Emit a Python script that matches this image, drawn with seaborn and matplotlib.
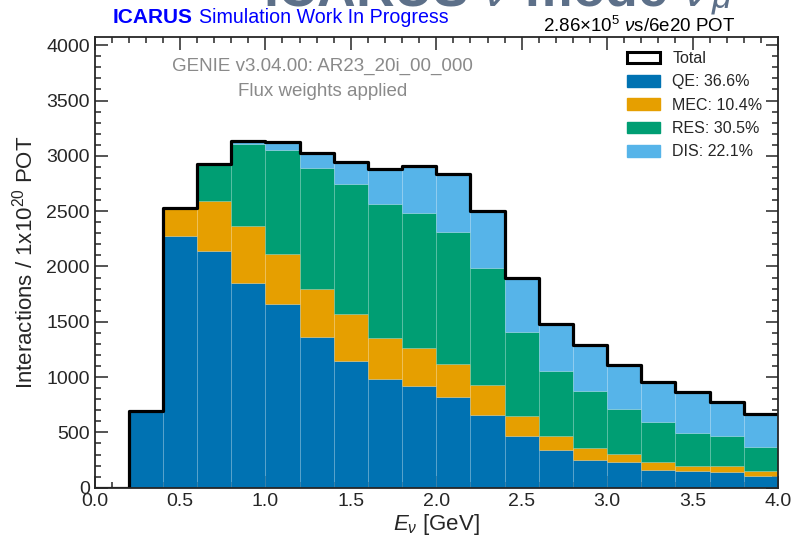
import numpy as np
import pandas as pd
import matplotlib
matplotlib.use("Agg")
import matplotlib.pyplot as plt
from matplotlib.patches import Patch
from matplotlib.ticker import MultipleLocator
import seaborn as sns

# bin edges in GeV, 0.2 GeV wide
edges = np.linspace(0.0, 4.0, 21)
centers = 0.5 * (edges[:-1] + edges[1:])

# interactions per bin, first bin 0.0-0.2 is empty
qe = [0, 689, 2278, 2140, 1851, 1659, 1366, 1147, 981, 915, 819, 653, 470, 337, 247, 235, 163, 147, 142, 102]
mec = [0, 0, 248, 452, 515, 457, 431, 421, 368, 346, 301, 271, 182, 126, 111, 72, 72, 52, 50, 51]
res = [0, 0, 0, 334, 740, 936, 1090, 1177, 1213, 1225, 1192, 1060, 759, 591, 512, 403, 361, 295, 271, 211]
dis = [0, 0, 0, 0, 30, 75, 135, 202, 316, 422, 523, 517, 488, 430, 421, 398, 361, 370, 316, 301]

modes = ["QE", "MEC", "RES", "DIS"]
labels = ["QE: 36.6%", "MEC: 10.4%", "RES: 30.5%", "DIS: 22.1%"]
colors = {"QE": "#0072b2", "MEC": "#e69f00", "RES": "#009e73", "DIS": "#56b4e9"}

df = pd.DataFrame({
    "E": np.tile(centers, 4),
    "mode": np.repeat(modes, len(centers)),
    "count": np.concatenate([qe, mec, res, dis]),
})
total = np.array(qe) + np.array(mec) + np.array(res) + np.array(dis)

sns.set_style("ticks")
plt.rcParams["font.family"] = ["Liberation Sans", "DejaVu Sans"]
plt.rcParams["mathtext.fontset"] = "custom"
plt.rcParams["mathtext.rm"] = "Liberation Sans"
plt.rcParams["mathtext.it"] = "Liberation Sans:italic"
plt.rcParams["mathtext.bf"] = "Liberation Sans:bold"

fig = plt.figure(figsize=(7.94, 5.39), dpi=100)
ax = fig.add_axes([0.1191, 0.0952, 0.9798 - 0.1191, 0.9319 - 0.0952])

# stacked components, last hue level ends up at the bottom
sns.histplot(data=df, x="E", weights="count", hue="mode",
             hue_order=["DIS", "RES", "MEC", "QE"], palette=colors,
             bins=edges.tolist(), multiple="stack", element="bars", alpha=1,
             edgecolor=(1, 1, 1, 0.12), linewidth=0.6, legend=False, ax=ax)
# total outline
sns.histplot(x=centers, weights=total, bins=edges.tolist(), element="step", fill=False,
             color="black", linewidth=2.3, ax=ax)

ax.set_xlim(0, 4)
ax.set_ylim(0, 1.3 * total.max())
ax.xaxis.set_major_locator(MultipleLocator(0.5))
ax.xaxis.set_minor_locator(MultipleLocator(0.1))
ax.yaxis.set_major_locator(MultipleLocator(500))
ax.yaxis.set_minor_locator(MultipleLocator(100))
ax.xaxis.set_major_formatter(matplotlib.ticker.FormatStrFormatter("%.1f"))
ax.tick_params(which="both", direction="in", top=True, right=True, width=1.1, labelsize=14)
ax.tick_params(which="major", length=9)
ax.tick_params(which="minor", length=4.5)
for s in ax.spines.values():
    s.set_linewidth(1.3)

ax.set_xlabel(r"$E_{\nu}$ [GeV]", fontsize=16, labelpad=2)
ax.set_ylabel(r"Interactions / 1x10$^{20}$ POT", fontsize=16, labelpad=6)

ax.text(0.333, 0.935, "GENIE v3.04.00: AR23_20i_00_000", transform=ax.transAxes,
        ha="center", va="center", fontsize=13.5, color="#8a8a8a")
ax.text(0.333, 0.878, "Flux weights applied", transform=ax.transAxes,
        ha="center", va="center", fontsize=13.5, color="#8a8a8a")

handles = [Patch(facecolor="white", edgecolor="black", linewidth=2.2)]
handles += [Patch(facecolor=colors[m], edgecolor=colors[m]) for m in modes]
ax.legend(handles, ["Total"] + labels, loc="upper left", bbox_to_anchor=(0.779, 0.968),
          frameon=False, fontsize=11.5, borderpad=0, borderaxespad=0,
          handlelength=2.05, handleheight=0.75, handletextpad=0.8, labelspacing=0.52)

# big slide title, mostly cut off by the top edge
W, H = 794, 539
title = fig.text(263 / W, 1 - 5 / H, r"ICARUS $\nu$ mode $\nu$", ha="left",
                 va="baseline", fontsize=38.5, fontweight="bold", color="#5d7089")
fig.canvas.draw()
tb = title.get_window_extent()
fig.text(tb.x1 / W + 0.001, 1 - 8 / H, r"$\mu$", ha="left", va="baseline",
         fontsize=26, fontweight="bold", color="#5d7089")

fig.text(113 / W, 1 - 23 / H, "ICARUS", ha="left", va="baseline",
         fontsize=15, fontweight="bold", color="blue")
fig.text(199 / W, 1 - 23 / H, "Simulation Work In Progress",
         ha="left", va="baseline", fontsize=14.1, color="blue")
fig.text(735 / W, 1 - 32 / H, r"2.86$\times$10$^{5}$ $\nu$s/6e20 POT", ha="right",
         va="baseline", fontsize=13.5, color="black")

fig.savefig("out.png", dpi=100)
